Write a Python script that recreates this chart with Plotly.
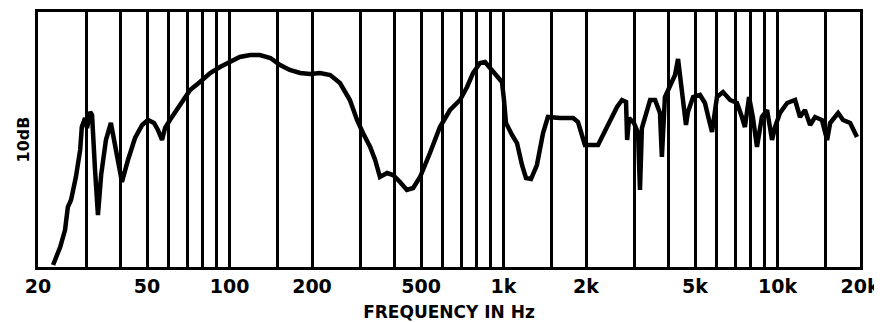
import plotly.graph_objects as go

# Frequency response trace
freq_hz = [22.7, 24.1, 25.1, 25.7, 26.4, 27.5, 28.5, 28.9, 29.7, 30.2, 31.0, 31.5, 32.3, 33.1,
           34.0, 35.4, 36.9, 38.8, 40.5, 42.6, 45.2, 48.0, 50.4, 53.0, 54.8, 56.7, 58.2, 60.6,
           66.0, 71.8, 78.0, 85.0, 92.3, 100.4, 109, 119, 129, 141, 153, 166, 181, 197, 214,
           233, 253, 275, 292, 307, 326, 340, 354, 376, 395, 419, 444, 468, 496, 539, 586,
           638, 694, 736, 774, 821, 856, 893, 946, 987, 1004, 1021, 1074, 1120, 1168, 1208,
           1260, 1324, 1394, 1452, 1607, 1795, 1870, 1932, 1982, 2104, 2213, 2307, 2449,
           2596, 2707, 2800, 2826, 2872, 2992, 3097, 3148, 3199, 3428, 3573, 3724, 3784,
           3882, 4121, 4227, 4335, 4446, 4634, 4710, 4918, 5212, 5434, 5624, 5768, 6012,
           6325, 6714, 7112, 7415, 7603, 7872, 8128, 8414, 8770, 9162, 9550, 9795, 10210,
           10840, 11590, 12080, 12590, 13150, 13710, 14520, 15170, 15560, 16640, 17340,
           18410, 19500]
level_db = [0.4, 4.0, 7.4, 12.0, 13.4, 18.0, 23.4, 28.0, 29.8, 27.8, 31.0, 30.4, 19.4, 10.4,
            18.4, 25.4, 28.8, 22.4, 17.0, 21.4, 25.8, 28.4, 29.4, 28.8, 27.4, 25.4, 27.8, 29.4,
            32.4, 35.4, 37.0, 38.8, 40.0, 41.0, 42.0, 42.4, 42.4, 41.8, 40.4, 39.4, 38.8, 38.6,
            38.8, 38.4, 36.8, 33.4, 29.4, 26.8, 24.0, 21.4, 18.0, 18.8, 18.4, 17.0, 15.4, 15.8,
            18.0, 22.8, 28.0, 31.4, 33.4, 36.0, 38.8, 40.8, 41.0, 39.8, 38.0, 37.0, 33.4, 28.8,
            26.4, 24.8, 20.4, 17.8, 17.6, 20.4, 26.8, 30.0, 29.8, 29.8, 29.0, 26.0, 24.4, 24.4,
            24.4, 26.4, 29.4, 32.0, 33.4, 33.0, 25.4, 29.8, 28.8, 26.8, 15.4, 27.8, 33.4, 33.4,
            30.8, 22.0, 34.0, 36.8, 38.4, 41.6, 36.4, 28.4, 31.0, 34.0, 34.4, 32.8, 29.4, 27.0,
            34.0, 35.0, 33.4, 32.8, 30.0, 28.0, 34.0, 30.0, 24.0, 30.0, 31.4, 25.4, 28.0, 30.8,
            32.8, 33.4, 30.0, 31.4, 28.4, 30.0, 29.4, 25.4, 28.8, 30.8, 29.4, 28.8, 26.0]

# Vertical grid positions and their labels
grid_hz = [20, 30, 40, 50, 60, 70, 80, 90, 100, 150, 200, 300, 400, 500, 600, 700, 800, 900,
           1000, 1500, 2000, 3000, 4000, 5000, 6000, 7000, 8000, 9000, 10000, 15000, 20000]
grid_labels = ["20", "", "", "50", "", "", "", "", "100", "", "200", "", "", "500", "", "", "",
               "", "1k", "", "2k", "", "", "5k", "", "", "", "", "10k", "", "20k"]

fig = go.Figure()
fig.add_trace(go.Scatter(x=freq_hz, y=level_db, mode="lines",
                         line=dict(color="black", width=4.5), hoverinfo="skip",
                         showlegend=False))

# page body adds an 8px offset, so the figure is sized to fill the 882x322 window
fig.update_layout(
    width=874, height=314,
    margin=dict(l=30, r=22, t=4, b=55, autoexpand=False),
    paper_bgcolor="white", plot_bgcolor="white",
    font=dict(family="DejaVu Sans", color="black"),
    xaxis=dict(type="log", range=[1.30103, 4.30103], automargin=False,
               tickmode="array", tickvals=grid_hz, ticktext=grid_labels,
               showgrid=True, gridcolor="black", gridwidth=2.5,
               showline=True, linecolor="black", linewidth=3, mirror=True,
               ticks="", zeroline=False,
               tickfont=dict(size=19, family="DejaVu Sans", weight="bold"),
               title=dict(text="FREQUENCY IN Hz", standoff=12,
                          font=dict(size=17, family="DejaVu Sans", weight="bold"))),
    yaxis=dict(range=[0, 51], showticklabels=False, ticks="", showgrid=False,
               automargin=False,
               zeroline=False, showline=True, linecolor="black", linewidth=3, mirror=True,
               title=dict(text="10dB", standoff=2,
                          font=dict(size=16, family="DejaVu Sans", weight="bold"))),
)

fig.write_html("out.html")
